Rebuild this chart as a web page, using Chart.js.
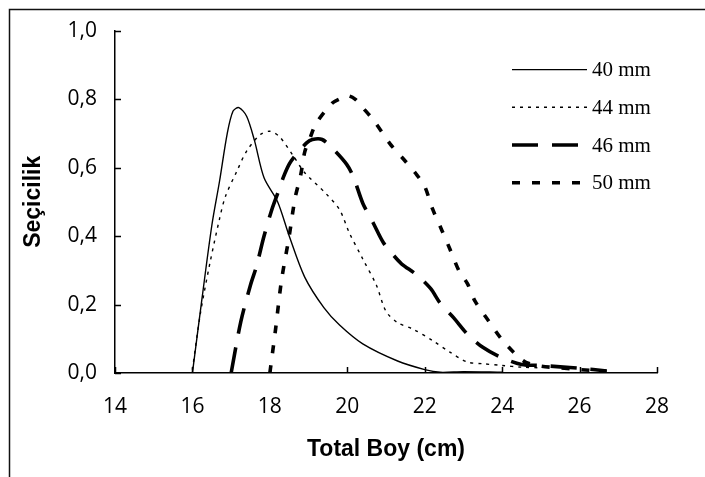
<!DOCTYPE html>
<html>
<head>
<meta charset="utf-8">
<script src="https://cdn.jsdelivr.net/npm/chart.js@4.4.1/dist/chart.umd.min.js"></script>
<style>
  body { margin: 0; background: #fff; }
  canvas { display: block; }
</style>
</head>
<body>
<canvas id="secicilik_chart" width="705" height="477"></canvas>
<script>
// total length (cm) and selectivity for each mesh size
var len40 = [16.0, 16.25, 16.5, 16.7, 16.9, 17.05, 17.2, 17.4, 17.6, 17.85, 18.2, 18.5, 18.9, 19.4, 19.8, 20.4, 21.3, 22.0, 22.4, 23.0, 24.0];
var sel40 = [0, 0.22, 0.43, 0.56, 0.70, 0.765, 0.775, 0.75, 0.68, 0.57, 0.50, 0.40, 0.28, 0.19, 0.14, 0.085, 0.035, 0.01, 0.002, 0.004, 0.002];

var len44 = [16.0, 16.2, 16.45, 16.7, 16.85, 17.15, 17.4, 17.75, 18.0, 18.25, 18.6, 18.9, 19.45, 19.8, 20.05, 20.4, 20.75, 21.0, 21.3, 21.7, 22.2, 22.65, 23.1, 23.5, 24.0, 24.5, 25.0];
var sel44 = [0.01, 0.17, 0.32, 0.45, 0.515, 0.59, 0.648, 0.696, 0.706, 0.69, 0.635, 0.585, 0.524, 0.477, 0.41, 0.333, 0.257, 0.18, 0.147, 0.128, 0.095, 0.061, 0.032, 0.027, 0.022, 0.017, 0.015];

var len46 = [17.0, 17.25, 17.5, 17.65, 17.85, 18.05, 18.2, 18.35, 18.5, 18.65, 18.95, 19.1, 19.35, 19.6, 19.98, 20.16, 20.4, 20.67, 20.93, 21.2, 21.4, 21.8, 22.15, 22.4, 22.75, 23.1, 23.5, 23.95, 24.5, 25.0, 25.5, 26.0, 26.7];
var sel46 = [0, 0.15, 0.257, 0.31, 0.40, 0.477, 0.524, 0.572, 0.61, 0.634, 0.672, 0.682, 0.682, 0.658, 0.61, 0.572, 0.496, 0.438, 0.381, 0.343, 0.319, 0.286, 0.247, 0.204, 0.161, 0.114, 0.075, 0.047, 0.025, 0.022, 0.018, 0.014, 0.006];

var len50 = [18.0, 18.15, 18.3, 18.5, 18.65, 18.8, 18.9, 19.05, 19.2, 19.6, 19.8, 20.0, 20.2, 20.4, 20.7, 21.1, 21.45, 21.8, 22.0, 22.2, 22.45, 22.65, 22.9, 23.1, 23.3, 23.65, 23.95, 24.3, 24.6, 25.0, 25.5, 26.0, 26.7];
var sel50 = [0, 0.13, 0.27, 0.40, 0.51, 0.58, 0.645, 0.69, 0.73, 0.787, 0.80, 0.81, 0.80, 0.775, 0.735, 0.67, 0.625, 0.578, 0.545, 0.48, 0.415, 0.362, 0.295, 0.262, 0.21, 0.152, 0.104, 0.06, 0.032, 0.02, 0.015, 0.01, 0.005];

var seriesNames = ["40 mm", "44 mm", "46 mm", "50 mm"];
var xTicks = [14, 16, 18, 20, 22, 24, 26, 28];
var yTicks = [0, 0.2, 0.4, 0.6, 0.8, 1.0];

function pts(xs, ys) {
  return xs.map(function (x, i) { return { x: x, y: ys[i] }; });
}

var tickFont = { family: "'Open Sans', sans-serif", size: 21 };
var titleFont = { family: "'Liberation Sans', Arial, sans-serif", size: 23, weight: 'bold' };

// outer frame of the excel chart (left and top edges only)
var framePlugin = {
  id: 'frame',
  beforeDraw: function (chart) {
    var c = chart.ctx;
    c.save();
    c.fillStyle = '#fff';
    c.fillRect(0, 0, chart.width, chart.height);
    c.strokeStyle = '#111';
    c.lineWidth = 1.5;
    c.beginPath();
    c.moveTo(9.5, chart.height);
    c.lineTo(9.5, 9.5);
    c.lineTo(chart.width, 9.5);
    c.stroke();
    c.restore();
  }
};

// tick marks pointing into the plot
var innerTicks = {
  id: 'innerTicks',
  afterDraw: function (chart) {
    var c = chart.ctx, a = chart.chartArea;
    var xs = chart.scales.x, ys = chart.scales.y;
    c.save();
    c.strokeStyle = '#000';
    c.lineWidth = 1.5;
    c.beginPath();
    xTicks.forEach(function (t) {
      var px = Math.round(xs.getPixelForValue(t)) + 0.5;
      c.moveTo(px, a.bottom);
      c.lineTo(px, a.bottom - 6);
    });
    yTicks.forEach(function (t) {
      var py = Math.round(ys.getPixelForValue(t)) + 0.5;
      c.moveTo(a.left, py);
      c.lineTo(a.left + 6, py);
    });
    c.stroke();
    c.restore();
  }
};

// legend drawn inside the plot, top right
var legendBox = {
  id: 'legendBox',
  afterDraw: function (chart) {
    var c = chart.ctx, a = chart.chartArea;
    var x0 = a.right - 145, x1 = a.right - 70;
    c.save();
    c.font = "21px 'Liberation Serif', 'Times New Roman', serif";
    c.textBaseline = 'middle';
    c.fillStyle = '#000';
    chart.data.datasets.forEach(function (ds, i) {
      var y = a.top + 39 + i * 37.7;
      c.strokeStyle = '#000';
      c.lineWidth = ds.borderWidth;
      c.setLineDash(ds.borderDash || []);
      c.beginPath();
      c.moveTo(x0, y);
      c.lineTo(x1, y);
      c.stroke();
      c.setLineDash([]);
      c.fillText(ds.label, x1 + 5, y + 1);
    });
    c.restore();
  }
};

var ctx = document.getElementById("secicilik_chart");
var myChart = new Chart(ctx, {
  type: 'line',
  plugins: [framePlugin, innerTicks, legendBox],
  data: {
    datasets: [{
      label: seriesNames[0],
      data: pts(len40, sel40),
      borderColor: '#000',
      borderWidth: 1.4,
      borderDash: []
    }, {
      label: seriesNames[1],
      data: pts(len44, sel44),
      borderColor: '#000',
      borderWidth: 1.4,
      borderDash: [3, 5]
    }, {
      label: seriesNames[2],
      data: pts(len46, sel46),
      borderColor: '#000',
      borderWidth: 3.6,
      borderDash: [26, 14]
    }, {
      label: seriesNames[3],
      data: pts(len50, sel50),
      borderColor: '#000',
      borderWidth: 3.6,
      borderDash: [8, 12]
    }]
  },
  options: {
    responsive: false,
    animation: false,
    layout: { padding: { left: 0, right: 48, top: 24, bottom: 0 } },
    elements: {
      point: { radius: 0 },
      line: { tension: 0.3, fill: false }
    },
    plugins: {
      legend: { display: false },
      tooltip: { enabled: false }
    },
    scales: {
      x: {
        type: 'linear',
        min: 14,
        max: 28,
        afterFit: function (s) { s.height = 104; },
        afterBuildTicks: function (s) { s.ticks = xTicks.map(function (v) { return { value: v }; }); },
        grid: { display: true, drawOnChartArea: false, drawTicks: false },
        border: { display: true, color: '#000', width: 1.5 },
        ticks: { font: tickFont, color: '#000', padding: 21, maxRotation: 0 },
        title: { display: true, text: 'Total Boy (cm)', font: titleFont, color: '#000', padding: { top: 0, bottom: 14 } }
      },
      y: {
        min: 0,
        max: 1,
        afterFit: function (s) { s.width = 115; },
        afterBuildTicks: function (s) { s.ticks = yTicks.map(function (v) { return { value: v }; }); },
        grid: { display: true, drawOnChartArea: false, drawTicks: false },
        border: { display: true, color: '#000', width: 1.5 },
        ticks: {
          font: tickFont,
          color: '#000',
          padding: 18,
          callback: function (v) { return v.toFixed(1).replace('.', ','); }
        },
        title: { display: true, text: 'Seçicilik', font: titleFont, color: '#000', padding: { top: 20, bottom: 0 } }
      }
    }
  }
});
</script>
</body>
</html>
